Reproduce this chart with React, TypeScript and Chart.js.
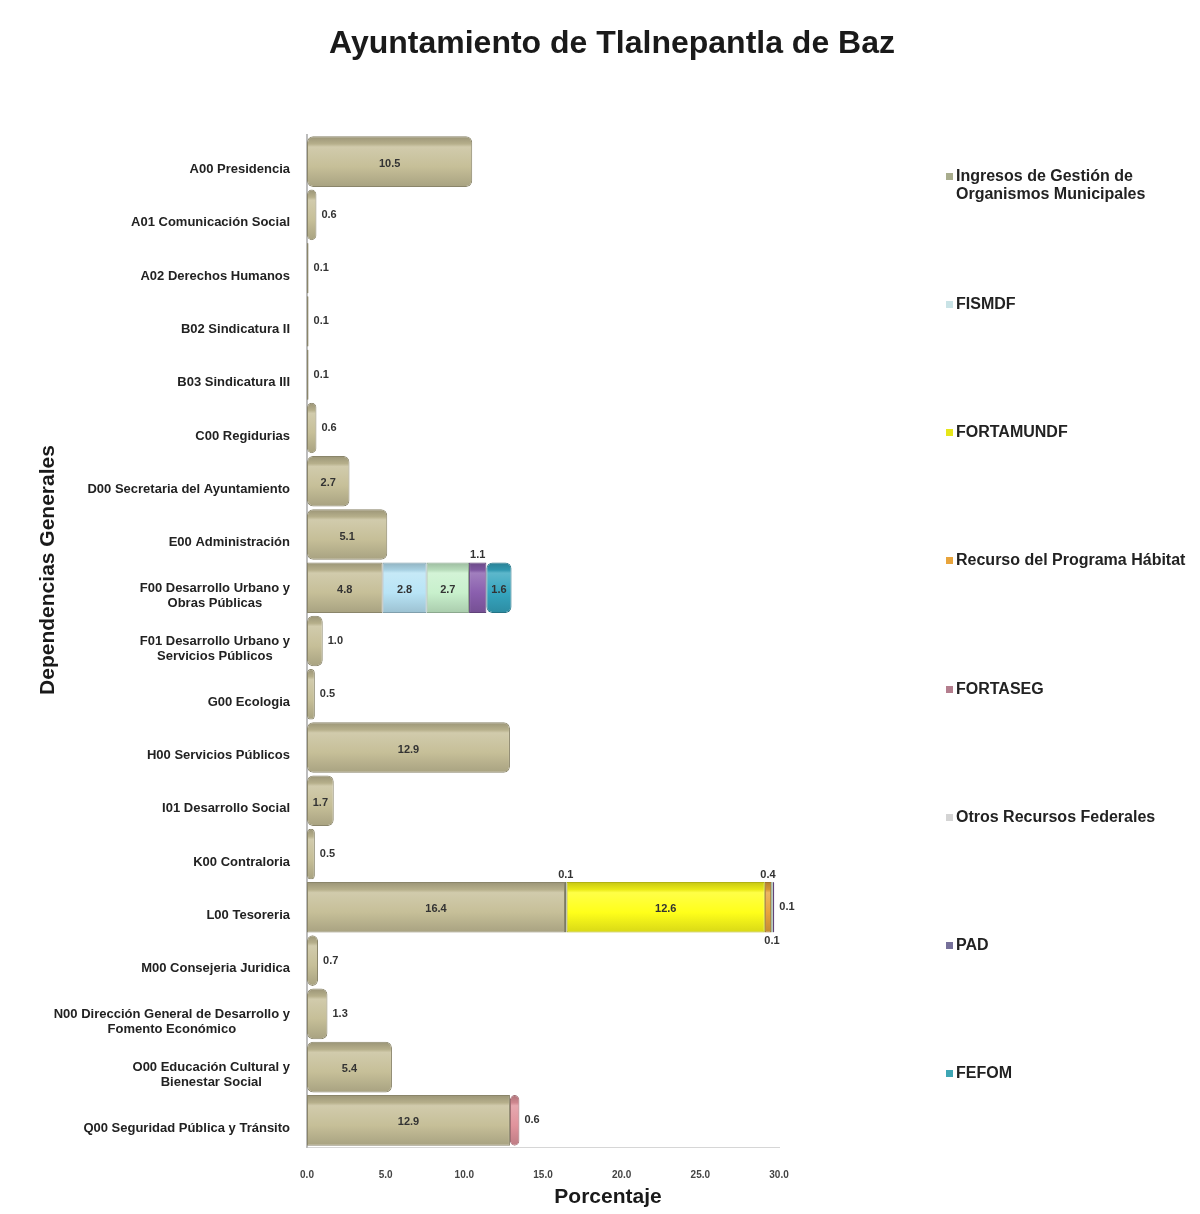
import { useEffect, useRef } from "react";
import { Chart, registerables } from "chart.js";

Chart.register(...registerables);

// ---------- DATA ----------
const categories: (string | string[])[] = [
  "A00 Presidencia",
  "A01 Comunicación Social",
  "A02 Derechos Humanos",
  "B02 Sindicatura II",
  "B03 Sindicatura III",
  "C00 Regidurias",
  "D00 Secretaria del Ayuntamiento",
  "E00 Administración",
  ["F00 Desarrollo Urbano y", "Obras Públicas"],
  ["F01 Desarrollo Urbano y", "Servicios Públicos"],
  "G00 Ecologia",
  "H00 Servicios Públicos",
  "I01 Desarrollo Social",
  "K00 Contraloria",
  "L00 Tesoreria",
  "M00 Consejeria Juridica",
  ["N00 Dirección General de Desarrollo y", "Fomento Económico"],
  ["O00 Educación Cultural y", "Bienestar Social"],
  "Q00 Seguridad Pública y Tránsito",
];

const recursosPropios = [10.5, 0.6, 0.1, 0.1, 0.1, 0.6, 2.7, 5.1, 4.8, 1.0, 0.5, 12.9, 1.7, 0.5, 16.4, 0.7, 1.3, 5.4, 12.9];
const ingresosGestion = [null, null, null, null, null, null, null, null, null, null, null, null, null, null, 0.1, null, null, null, null];
const fismdf = [null, null, null, null, null, null, null, null, 2.8, null, null, null, null, null, null, null, null, null, null];
const fortamundf = [null, null, null, null, null, null, null, null, null, null, null, null, null, null, 12.6, null, null, null, null];
const habitat = [null, null, null, null, null, null, null, null, null, null, null, null, null, null, 0.4, null, null, null, null];
const fortaseg = [null, null, null, null, null, null, null, null, null, null, null, null, null, null, null, null, null, null, 0.6];
const otrosFederales = [null, null, null, null, null, null, null, null, 2.7, null, null, null, null, null, 0.1, null, null, null, null];
const pad = [null, null, null, null, null, null, null, null, 1.1, null, null, null, null, null, 0.1, null, null, null, null];
const fefom = [null, null, null, null, null, null, null, null, 1.6, null, null, null, null, null, null, null, null, null, null];

const xTicks = [0, 5, 10, 15, 20, 25, 30];

const seriesNames = [
  "Recursos Propios",
  "Ingresos de Gestión de Organismos Municipales",
  "FISMDF",
  "FORTAMUNDF",
  "Recurso del Programa Hábitat",
  "FORTASEG",
  "Otros Recursos Federales",
  "PAD",
  "FEFOM",
];
const seriesData = [recursosPropios, ingresosGestion, fismdf, fortamundf, habitat, fortaseg, otrosFederales, pad, fefom];
const barColors = ["#c6bf98", "#a9ad8e", "#b8e4f6", "#ffff1a", "#e8a43c", "#e0939c", "#c8f0cc", "#8a5fae", "#35a5bf"];
const legendColors = ["#a9ad8e", "#c9e3e6", "#e6e61a", "#e8a43c", "#b47e8e", "#d4d4d4", "#76709a", "#3ea6b4"];

// ---------- STYLE HELPERS ----------
const FONT = '"Liberation Sans", Arial, Helvetica, sans-serif';

function shade(hex: string, f: number) {
  const n = parseInt(hex.slice(1), 16);
  let r = n >> 16, g = (n >> 8) & 255, b = n & 255;
  if (f < 0) {
    r *= 1 + f; g *= 1 + f; b *= 1 + f;
  } else {
    r += (255 - r) * f; g += (255 - g) * f; b += (255 - b) * f;
  }
  return `rgb(${r | 0},${g | 0},${b | 0})`;
}

const BAR_PCT = 0.95;

function barFill(color: string) {
  return (ctx: any) => {
    const chart = ctx.chart;
    const y = chart.scales && chart.scales.y;
    if (!y || ctx.type !== "data" || y.top === undefined) return color;
    const c = y.getPixelForValue(ctx.dataIndex);
    const step = Math.abs(y.getPixelForValue(1) - y.getPixelForValue(0));
    const h = step * BAR_PCT;
    const g = chart.ctx.createLinearGradient(0, c - h / 2, 0, c + h / 2);
    g.addColorStop(0, shade(color, -0.22));
    g.addColorStop(0.15, shade(color, -0.08));
    g.addColorStop(0.21, shade(color, 0.2));
    g.addColorStop(0.6, color);
    g.addColorStop(1, shade(color, -0.15));
    return g;
  };
}

// ---------- PLUGINS ----------
const segLabels = {
  id: "segLabels",
  afterDatasetsDraw(chart: any) {
    const ctx = chart.ctx;
    ctx.save();
    ctx.font = `bold 11px ${FONT}`;
    ctx.fillStyle = "#333";
    const dsets = chart.data.datasets;
    for (let i = 0; i < categories.length; i++) {
      let last = -1;
      dsets.forEach((ds: any, d: number) => {
        if (ds.data[i] != null) last = d;
      });
      let prevAbove = false;
      dsets.forEach((ds: any, d: number) => {
        const v = ds.data[i];
        if (v == null) return;
        const el = chart.getDatasetMeta(d).data[i];
        const { x, base, y, height } = el.getProps(["x", "base", "y", "height"], true);
        const w = x - base;
        const txt = Number(v).toFixed(1);
        if (w >= 22) {
          ctx.textAlign = "center";
          ctx.textBaseline = "middle";
          ctx.fillText(txt, (x + base) / 2, y + 2);
          prevAbove = false;
        } else if (d === last) {
          ctx.textAlign = "left";
          ctx.textBaseline = "middle";
          ctx.fillText(txt, x + 5, y);
        } else if (!prevAbove) {
          ctx.textAlign = "center";
          ctx.textBaseline = "bottom";
          ctx.fillText(txt, (x + base) / 2, y - height / 2 - 2);
          prevAbove = true;
        } else {
          ctx.textAlign = "center";
          ctx.textBaseline = "top";
          ctx.fillText(txt, (x + base) / 2, y + height / 2 + 3);
          prevAbove = false;
        }
      });
    }
    ctx.restore();
  },
};

const axisText = {
  id: "axisText",
  afterDraw(chart: any) {
    const ctx = chart.ctx;
    const yScale = chart.scales.y;
    ctx.save();
    // category labels: block right-aligned, lines centred inside block
    ctx.font = `bold 13px ${FONT}`;
    ctx.fillStyle = "#222";
    ctx.textBaseline = "middle";
    ctx.textAlign = "center";
    const right = yScale.right - 17;
    categories.forEach((lab, i) => {
      const lines = Array.isArray(lab) ? lab : [lab];
      const maxW = Math.max(...lines.map((l) => ctx.measureText(l).width));
      const cx = right - maxW / 2;
      const cy = yScale.getPixelForValue(i) + 8;
      const lh = 15;
      lines.forEach((l, k) => {
        ctx.fillText(l, cx, cy + (k - (lines.length - 1) / 2) * lh);
      });
    });
    // axis titles
    ctx.fillStyle = "#1a1a1a";
    ctx.font = `bold 21px ${FONT}`;
    ctx.textAlign = "center";
    ctx.textBaseline = "middle";
    ctx.fillText("Porcentaje", 600, 1189);
    ctx.translate(40, 562);
    ctx.rotate(-Math.PI / 2);
    ctx.fillText("Dependencias Generales", 0, 0);
    ctx.restore();
  },
};

// ---------- COMPONENT ----------
const legendCenters = [176, 304, 432, 560, 689, 817, 945, 1073];

export default function App() {
  const ref = useRef<HTMLCanvasElement | null>(null);

  useEffect(() => {
    if (!ref.current) return;
    const chart = new Chart(ref.current, {
      type: "bar",
      data: {
        labels: categories as any,
        datasets: seriesNames.map((name, k) => ({
          label: name,
          data: seriesData[k] as any,
          backgroundColor: barFill(barColors[k]) as any,
          borderColor: shade(barColors[k], -0.3),
          borderWidth: 1,
          borderRadius: 6,
          borderSkipped: false,
          barPercentage: BAR_PCT,
          categoryPercentage: 1,
        })),
      },
      options: {
        indexAxis: "y",
        responsive: false,
        animation: false,
        layout: { padding: { top: 127, right: 421, bottom: 0, left: 0 } },
        plugins: {
          legend: { display: false },
          title: { display: false },
          tooltip: { enabled: false },
        },
        scales: {
          x: {
            stacked: true,
            min: 0,
            max: 30,
            afterFit: (s: any) => {
              s.height = 67;
            },
            afterBuildTicks: (s: any) => {
              s.ticks = xTicks.map((v) => ({ value: v }));
            },
            grid: { display: false, drawTicks: false },
            border: { display: true, color: "#d6d6d6", width: 1 },
            ticks: {
              padding: 22,
              color: "#444",
              font: { family: FONT, size: 10, weight: "bold" },
              callback: (v: any) => Number(v).toFixed(1),
            },
          },
          y: {
            stacked: true,
            afterFit: (s: any) => {
              s.width = 299;
            },
            grid: { display: false, drawTicks: false },
            border: { display: true, color: "#bdbdbd", width: 2 },
            ticks: { display: false },
          },
        },
      },
      plugins: [segLabels, axisText],
    });
    return () => chart.destroy();
  }, []);

  return (
    <div style={{ position: "relative", width: 1192, height: 1206, outline: "1px solid #ececec", background: "#fff" }}>
      <canvas ref={ref} width={1192} height={1206} style={{ position: "absolute", left: 0, top: 0 }} />
      <div
        style={{
          position: "absolute",
          left: 604,
          top: 16,
          transform: "translateX(-50%)",
          whiteSpace: "nowrap",
          fontFamily: FONT,
          fontWeight: "bold",
          fontSize: 32,
          lineHeight: "36px",
          color: "#1a1a1a",
        }}
      >
        Ayuntamiento de Tlalnepantla de Baz
      </div>
      {seriesNames.slice(1).map((name, k) => (
        <div
          key={name}
          style={{
            position: "absolute",
            left: 938,
            top: legendCenters[k] - 8 - 9,
            fontFamily: FONT,
            fontWeight: "bold",
            fontSize: 16,
            lineHeight: "18px",
            color: "#222",
            display: "flex",
            alignItems: "flex-start",
          }}
        >
          <span
            style={{
              display: "inline-block",
              width: 7,
              height: 7,
              marginTop: 6,
              marginRight: 3,
              background: legendColors[k],
            }}
          />
          <span style={{ width: 240 }}>
            {k === 0 ? (
              <>
                Ingresos de Gestión de
                <br />
                Organismos Municipales
              </>
            ) : (
              name
            )}
          </span>
        </div>
      ))}
    </div>
  );
}
